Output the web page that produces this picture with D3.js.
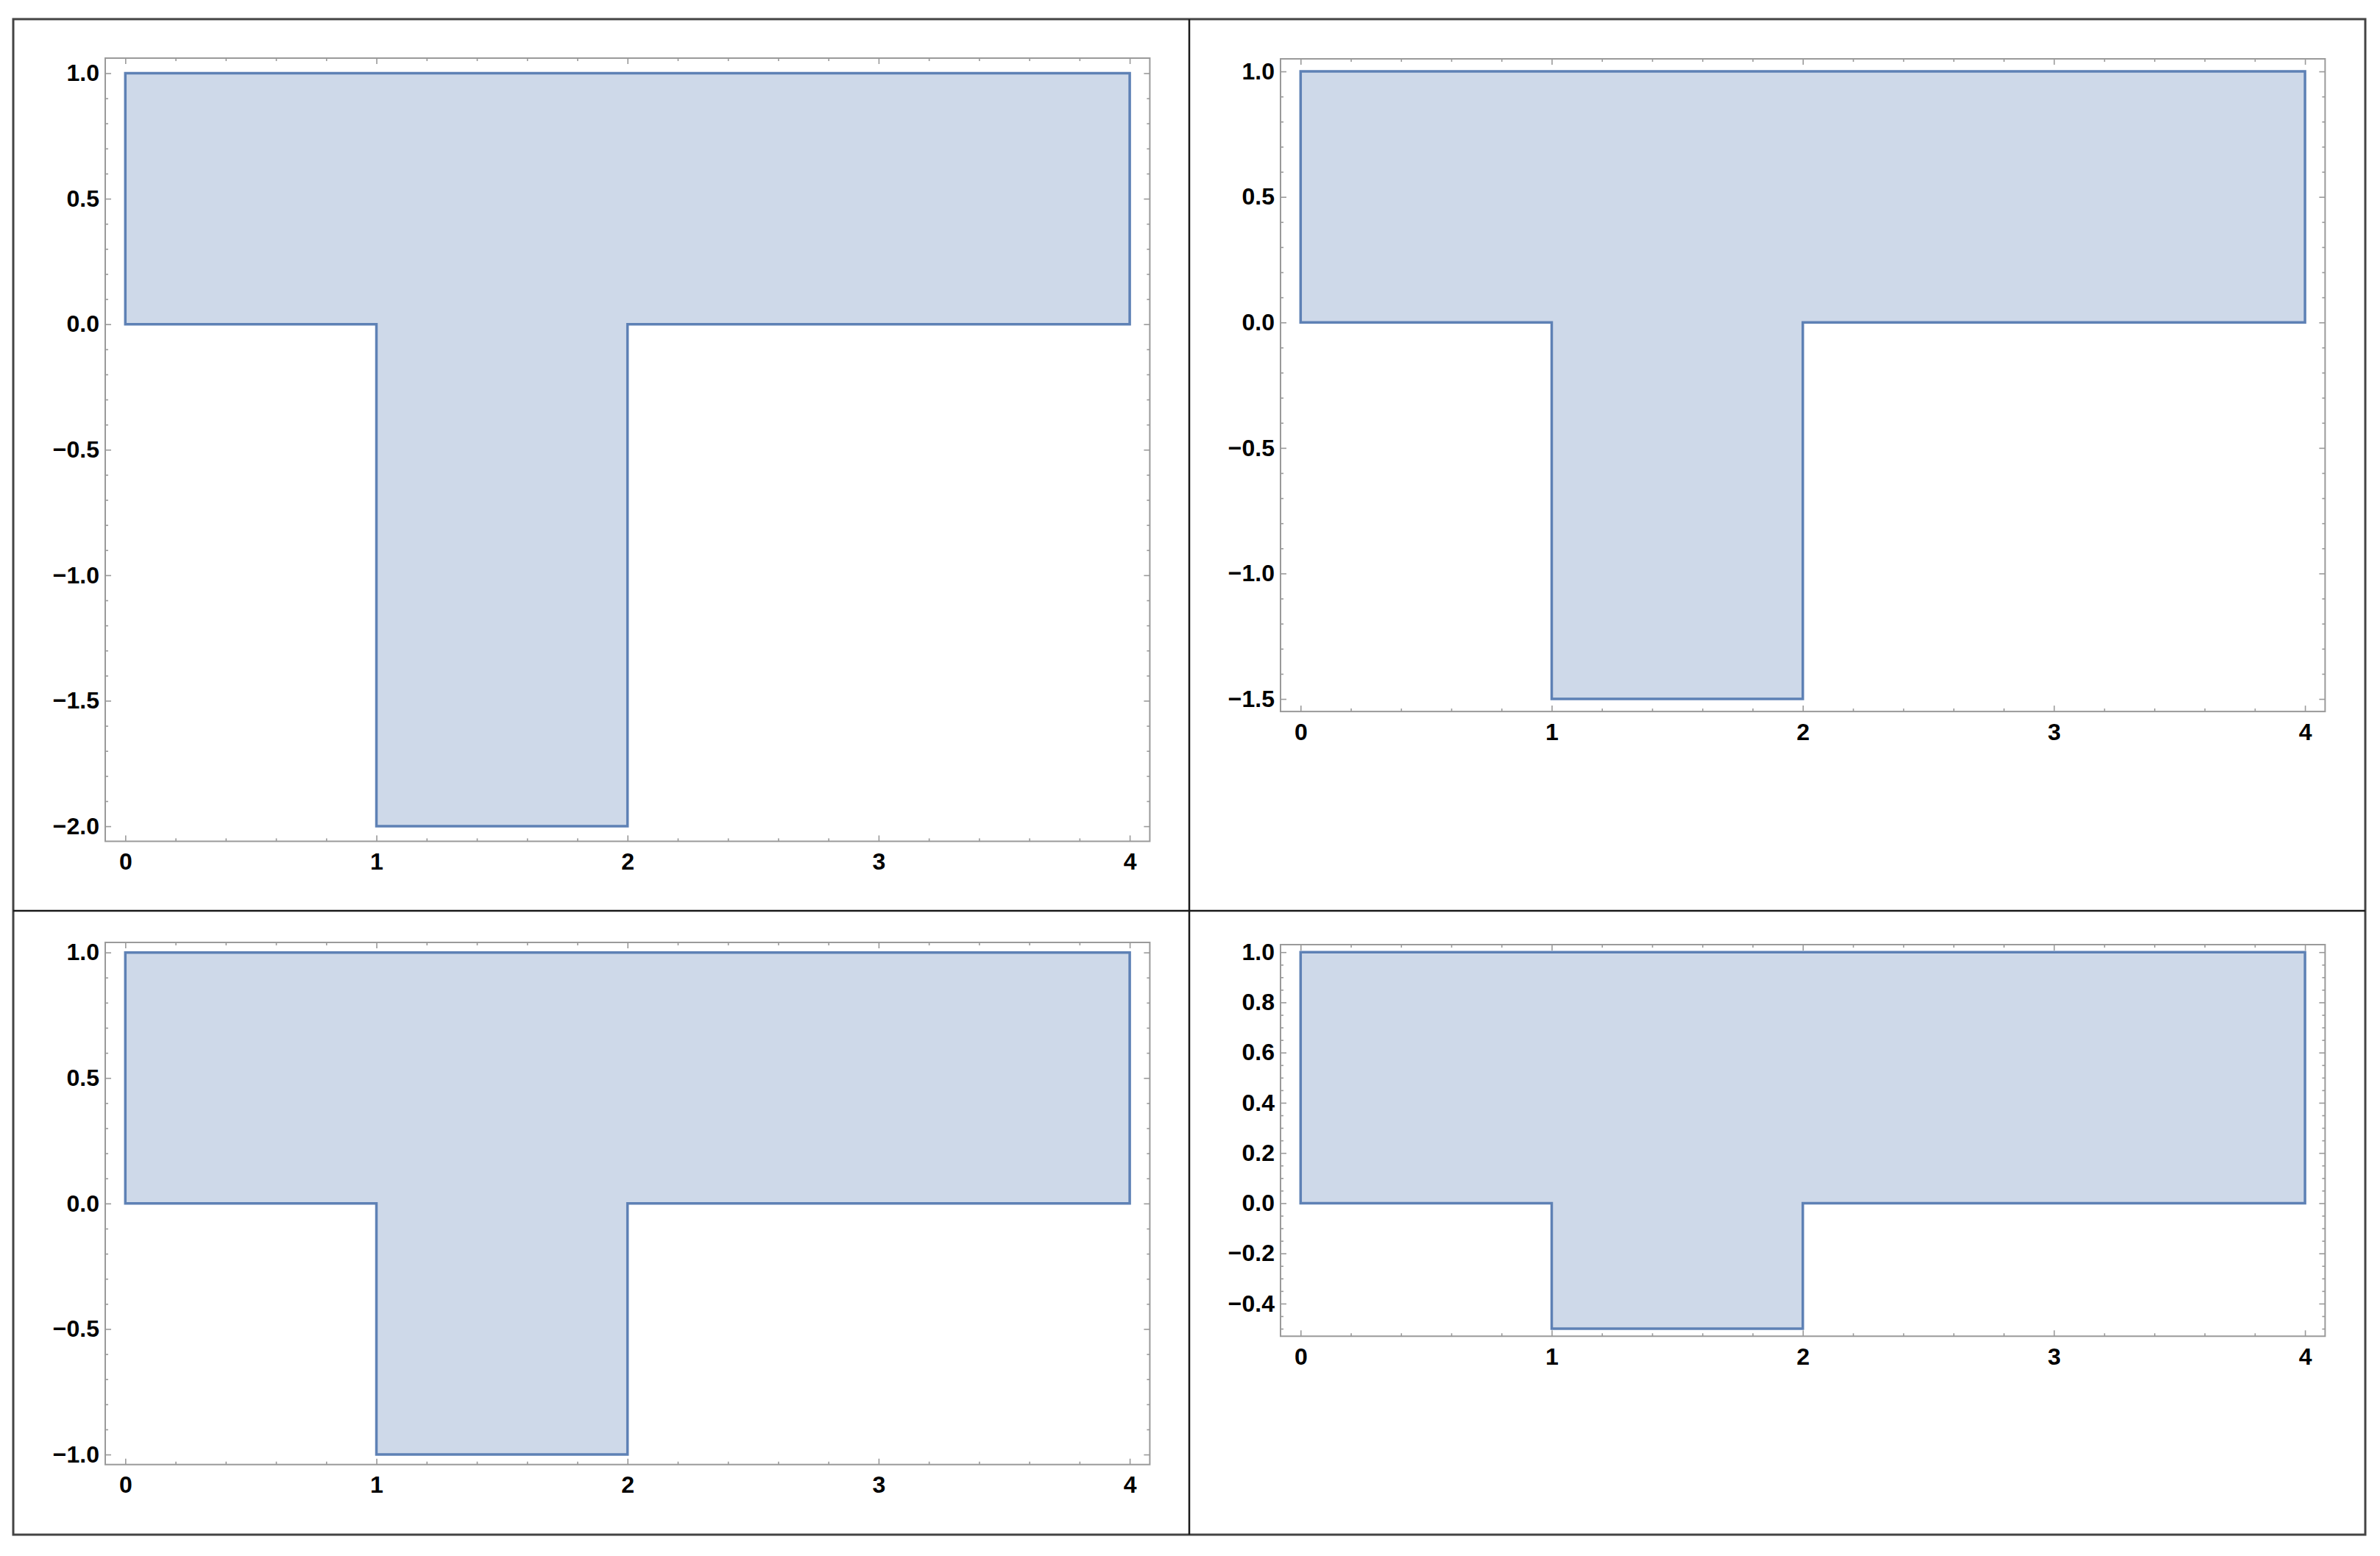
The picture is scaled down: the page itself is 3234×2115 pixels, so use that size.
<!DOCTYPE html>
<html><head><meta charset="utf-8">
<script src="https://cdn.jsdelivr.net/npm/d3@7"></script>
<style>html,body{margin:0;padding:0;background:#fff;} svg{display:block;}</style>
</head><body>
<svg id="chart" width="3234" height="2115"></svg>
<script>
// ---- data ----
const outlineX = [0, 0, 4, 4, 2, 2, 1, 1, 0];
const panelA_Y = [0, 1, 1, 0, 0, -2, -2, 0, 0];
const panelB_Y = [0, 1, 1, 0, 0, -1.5, -1.5, 0, 0];
const panelC_Y = [0, 1, 1, 0, 0, -1, -1, 0, 0];
const panelD_Y = [0, 1, 1, 0, 0, -0.5, -0.5, 0, 0];
const xTickValues = [0, 1, 2, 3, 4];
const yTicksA = [1.0, 0.5, 0.0, -0.5, -1.0, -1.5, -2.0];
const yTicksB = [1.0, 0.5, 0.0, -0.5, -1.0, -1.5];
const yTicksC = [1.0, 0.5, 0.0, -0.5, -1.0];
const yTicksD = [1.0, 0.8, 0.6, 0.4, 0.2, 0.0, -0.2, -0.4];

// ---- layout / style ----
const UNIT = 341.2;
const panels = [
  {ys: panelA_Y, ticks: yTicksA, minorDiv: 5, left: 143, top: 79},
  {ys: panelB_Y, ticks: yTicksB, minorDiv: 5, left: 1740, top: 80},
  {ys: panelC_Y, ticks: yTicksC, minorDiv: 5, left: 143, top: 1281},
  {ys: panelD_Y, ticks: yTicksD, minorDiv: 4, left: 1740, top: 1284}
];
const LINE = "#5E81B5";
const FRAME = "#9a9a9a";
const FONT = "'Liberation Sans', Arial, sans-serif";
const FS = 32;

const svg = d3.select("#chart");
svg.append("rect").attr("width", 3234).attr("height", 2115).attr("fill", "#fff");

function minorTicks(lo, hi, step, majors) {
  const out = [];
  const start = Math.ceil(lo / step - 1e-9);
  for (let i = start; i * step <= hi + 1e-9; i++) {
    const v = +(i * step).toFixed(6);
    if (!majors.some(m => Math.abs(m - v) < 1e-6)) out.push(v);
  }
  return out;
}

function styleAxis(g, withText) {
  g.select(".domain").remove();
  g.selectAll(".tick line").attr("stroke", FRAME).attr("stroke-width", 1.6);
  if (withText) {
    g.selectAll(".tick text").attr("fill", "#000").attr("font-family", FONT)
      .attr("font-size", FS).attr("font-weight", "bold");
  } else {
    g.selectAll(".tick text").remove();
  }
}

panels.forEach(p => {
  const yMin = d3.min(p.ys), yMax = d3.max(p.ys);
  const yr = yMax - yMin;
  const yDom = [yMin - 0.02 * yr, yMax + 0.02 * yr];
  const xMin = d3.min(outlineX), xMax = d3.max(outlineX);
  const xr = xMax - xMin;
  const xDom = [xMin - 0.02 * xr, xMax + 0.02 * xr];
  const W = (xDom[1] - xDom[0]) * UNIT;
  const H = (yDom[1] - yDom[0]) * UNIT;
  const x = d3.scaleLinear().domain(xDom).range([0, W]);
  const y = d3.scaleLinear().domain(yDom).range([H, 0]);

  const g = svg.append("g").attr("transform", `translate(${p.left},${p.top})`);

  // shape
  const pts = outlineX.map((xv, i) => [xv, p.ys[i]]);
  const line = d3.line().x(d => x(d[0])).y(d => y(d[1]));
  g.append("path").attr("d", line(pts) + "Z")
    .attr("fill", LINE).attr("fill-opacity", 0.3)
    .attr("stroke", LINE).attr("stroke-width", 3.5).attr("stroke-linejoin", "miter");

  const yStep = Math.abs(p.ticks[0] - p.ticks[1]);
  const yMinor = minorTicks(yDom[0], yDom[1], yStep / p.minorDiv, p.ticks);
  const xMinor = minorTicks(xDom[0], xDom[1], 0.2, xTickValues);
  const fmtY = d3.format(".1f");
  const fmtX = d3.format("d");

  // left
  g.append("g").call(d3.axisLeft(y).tickValues(p.ticks).tickFormat(fmtY).tickSize(-8).tickPadding(8))
    .call(a => styleAxis(a, true));
  g.append("g").call(d3.axisLeft(y).tickValues(yMinor).tickFormat("").tickSize(-4))
    .call(a => styleAxis(a, false));
  // right
  g.append("g").attr("transform", `translate(${W},0)`)
    .call(d3.axisRight(y).tickValues(p.ticks).tickFormat("").tickSize(-8)).call(a => styleAxis(a, false));
  g.append("g").attr("transform", `translate(${W},0)`)
    .call(d3.axisRight(y).tickValues(yMinor).tickFormat("").tickSize(-4)).call(a => styleAxis(a, false));
  // bottom
  g.append("g").attr("transform", `translate(0,${H})`)
    .call(d3.axisBottom(x).tickValues(xTickValues).tickFormat(fmtX).tickSize(-8).tickPadding(16))
    .call(a => styleAxis(a, true));
  g.append("g").attr("transform", `translate(0,${H})`)
    .call(d3.axisBottom(x).tickValues(xMinor).tickFormat("").tickSize(-4)).call(a => styleAxis(a, false));
  // top
  g.append("g").call(d3.axisTop(x).tickValues(xTickValues).tickFormat("").tickSize(-8)).call(a => styleAxis(a, false));
  g.append("g").call(d3.axisTop(x).tickValues(xMinor).tickFormat("").tickSize(-4)).call(a => styleAxis(a, false));

  // frame
  g.append("rect").attr("width", W).attr("height", H)
    .attr("fill", "none").attr("stroke", FRAME).attr("stroke-width", 2);
});

// outer grid frame
svg.append("rect").attr("x", 18).attr("y", 26).attr("width", 3196).attr("height", 2060)
  .attr("fill", "none").attr("stroke", "#444").attr("stroke-width", 3);
svg.append("line").attr("x1", 1616).attr("x2", 1616).attr("y1", 26).attr("y2", 2086)
  .attr("stroke", "#1a1a1a").attr("stroke-width", 2.5);
svg.append("line").attr("x1", 18).attr("x2", 3214).attr("y1", 1238).attr("y2", 1238)
  .attr("stroke", "#1a1a1a").attr("stroke-width", 2.5);
</script>
</body></html>
